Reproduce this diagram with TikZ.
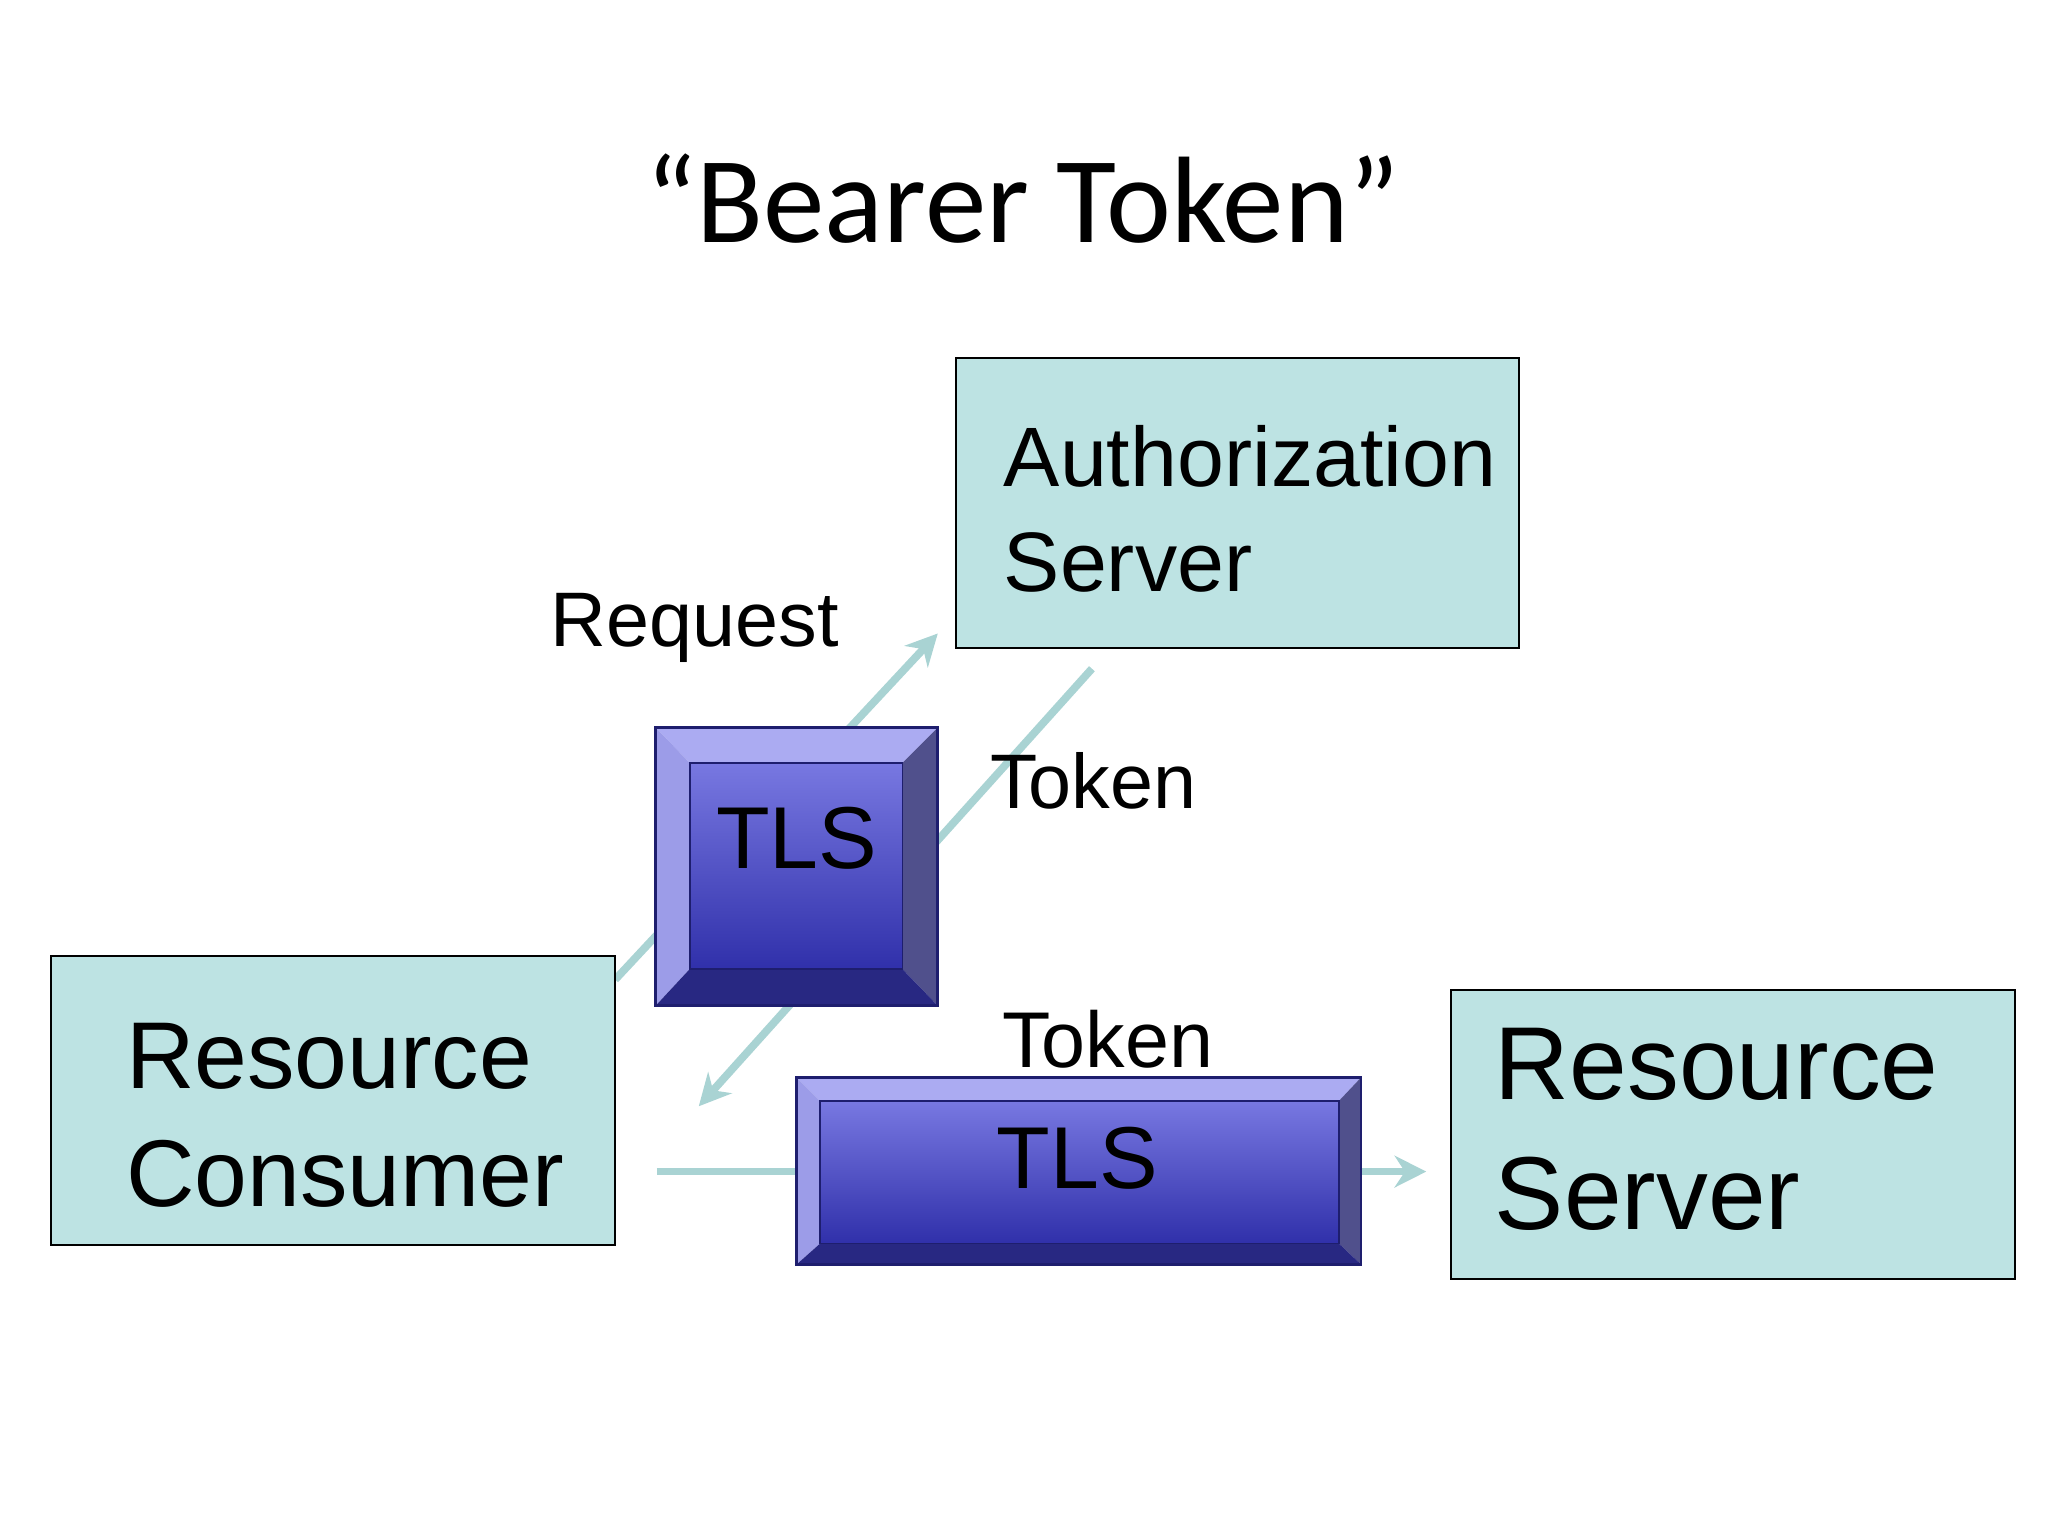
\documentclass[tikz,border=0pt]{standalone}
\usepackage{fontspec}
\setmainfont{Liberation Sans}
\newfontfamily\titlefont{Carlito}
\usetikzlibrary{arrows.meta}
\definecolor{boxfill}{HTML}{BDE3E3}
\definecolor{arr}{HTML}{A9D3D3}
\definecolor{tlstop}{HTML}{ABABF2}
\definecolor{tlsleft}{HTML}{9C9CE8}
\definecolor{tlsright}{HTML}{50508C}
\definecolor{tlsbot}{HTML}{282882}
\definecolor{tlsg1}{HTML}{7878E1}
\definecolor{tlsg2}{HTML}{3030AA}
\definecolor{tlsline}{HTML}{1E1E6E}
\begin{document}
\begin{tikzpicture}[x=0.01306cm,y=-0.01306cm,
  srv/.style={draw=black,line width=0.6pt,fill=boxfill},
  conn/.style={draw=arr,line width=2.2pt,-{Stealth[length=9pt,width=9pt]}},
  lbl/.style={inner sep=0pt,anchor=center}]
\useasboundingbox (0,0) rectangle (1568,1176);
\fill[white] (0,0) rectangle (1568,1176);
\newcommand{\tlsbox}[9]{% x1 y1 x2 y2 ix1 iy1 ix2 iy2 name
  \fill[tlstop] (#1,#2) -- (#3,#2) -- (#7,#6) -- (#5,#6) -- cycle;
  \fill[tlsleft] (#1,#2) -- (#5,#6) -- (#5,#8) -- (#1,#4) -- cycle;
  \fill[tlsright] (#3,#2) -- (#3,#4) -- (#7,#8) -- (#7,#6) -- cycle;
  \fill[tlsbot] (#1,#4) -- (#3,#4) -- (#7,#8) -- (#5,#8) -- cycle;
  \shade[top color=tlsg1,bottom color=tlsg2] (#5,#6) rectangle (#7,#8);
  \draw[tlsline,line width=0.8pt] (#1,#2) rectangle (#3,#4);
  \draw[tlsline,line width=0.5pt] (#5,#6) rectangle (#7,#8);
  \coordinate (#9) at ({(#1+#3)/2},{(#2+#4)/2});
}
\node[lbl] (title) at (783,152) {\titlefont\fontsize{35}{42}\selectfont “Bearer Token”};
% connectors (behind)
\coordinate (rq1) at (471,750); \coordinate (rq2) at (718,485);
\coordinate (tk1) at (836,512); \coordinate (tk2) at (535,847);
\coordinate (b1) at (503,897); \coordinate (b2) at (1092,897);
\draw[conn] (rq1) -- (rq2);
\draw[conn] (tk1) -- (tk2);
\draw[conn] (b1) -- (b2);
% boxes
\draw[srv] (732,274) rectangle (1163,496);
\node[lbl,anchor=north west,align=left,font=\fontsize{24}{30}\selectfont] (auth) at (768,325) {Authorization\\Server};
\draw[srv] (39,732) rectangle (471,953);
\node[lbl,anchor=north west,align=left,font=\fontsize{27}{33.5}\selectfont] (rc) at (96,783) {Resource\\Consumer};
\draw[srv] (1111,758) rectangle (1543,979);
\node[lbl,anchor=north west,align=left,font=\fontsize{29.5}{37}\selectfont] (rs) at (1144,787) {Resource\\Server};
\tlsbox{502}{557}{718}{770}{528}{584}{691}{742}{t1c}
\node[lbl] (tls1) at (610,642) {\fontsize{25}{30}\selectfont TLS};
\tlsbox{610}{825}{1042}{968}{628}{843}{1025}{952}{t2c}
\node[lbl] (tls2) at (825,887) {\fontsize{25}{30}\selectfont TLS};
\node[lbl] (req) at (532,481) {\fontsize{22}{28}\selectfont Request};
\node[lbl] (tok1) at (837,598) {\fontsize{22}{28}\selectfont Token};
\node[lbl] (tok2) at (848,796) {\fontsize{22.5}{28}\selectfont Token};
\end{tikzpicture}
\end{document}
